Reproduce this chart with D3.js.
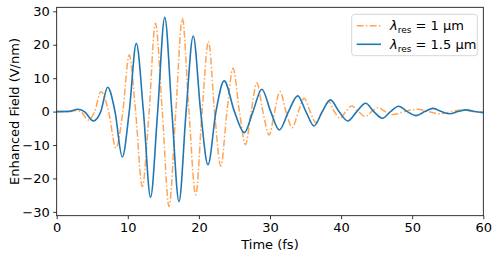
<!DOCTYPE html>
<html><head><meta charset="utf-8">
<script src="https://cdn.jsdelivr.net/npm/d3@7"></script>
<style>body{margin:0;background:#fff}svg{display:block}text{font-family:"DejaVu Sans",sans-serif;fill:#000}</style>
</head><body>
<svg id="c" width="498" height="259"></svg>
<script>
// Data (time in fs, field in V/nm)
const orangeT = [0,1.8,2.7,3.4,4.4,5.35,6.23,7.3,8.34,9.3,10.2,11.1,12.04,13.0,13.88,14.85,15.8,16.75,17.67,18.6,19.55,20.45,21.35,22.2,23.08,23.95,24.8,25.7,26.55,27.35,28.15,29.0,29.88,30.65,31.4,32.25,33.12,34.0,34.8,35.65,36.45,37.35,38.25,39.05,39.85,40.65,41.5,42.45,43.4,44.3,45.2,46.2,47.3,48.9,50.7,52.3,53.9,55.5,57.0,58.5,60];
const orangeV = [0,0,0.3,0,-2.5,0,6.0,0,-10.9,0,16.9,0,-22.4,0,26.4,0,-28.4,0,27.9,0,-24.9,0,21.0,0,-16.3,0,13.0,0,-9.9,0,8.6,0,-7.0,0,6.0,0,-4.8,0,4.0,0,-3.3,0,3.0,0,-2.0,0,1.7,0,-1.5,0,1.2,0,-0.9,0,0.7,0,-0.7,0,0.5,0,-0.2];
const blueT = [0,1.8,2.95,3.9,5.15,6.2,7.17,8.2,9.23,10.2,11.2,12.2,13.2,14.2,15.2,16.2,17.2,18.2,19.2,20.25,21.28,22.4,23.55,25.0,26.4,27.6,28.85,30.1,31.3,32.6,33.9,35.05,36.2,37.35,38.5,39.7,40.95,42.2,43.45,44.6,45.8,46.95,48.1,49.3,50.55,51.75,52.95,54.1,55.3,56.45,57.6,58.8,60];
const blueV = [0,0.05,0.7,0,-2.8,0,7.3,0,-13.6,0,20.4,0,-25.6,0,28.2,0,-26.9,0,22.6,0,-15.9,0,9.2,0,-6.3,0,6.7,0,-5.5,0,4.7,0,-4.3,0,3.5,0,-2.8,0,2.5,0,-2.0,0,1.6,0,-1.2,0,0.95,0,-0.65,0,0.5,0,-0.3];
const xTicks = [0,10,20,30,40,50,60];
const yTicks = [-30,-20,-10,0,10,20,30];
const xLabel = "Time (fs)";
const yLabel = "Enhanced Field (V/nm)";
const legendVals = ["1 µm","1.5 µm"];

const svg = d3.select("#c");
const L = 56.7, R = 483.3, T = 7.3, B = 215.7;
const x = d3.scaleLinear().domain([0,60]).range([L,R]);
const y = d3.scaleLinear().domain([-31.15,31.2]).range([B,T]);

const clip = svg.append("clipPath").attr("id","cp").append("rect")
  .attr("x",L).attr("y",T).attr("width",R-L).attr("height",B-T);

const line = d3.line().x(d=>x(d[0])).y(d=>y(d[1])).curve(d3.curveMonotoneX);
const oData = orangeT.map((t,i)=>[t,orangeV[i]]);
const bData = blueT.map((t,i)=>[t,blueV[i]]);

const g = svg.append("g").attr("clip-path","url(#cp)");
g.append("path").datum(oData).attr("d",line).attr("fill","none")
  .attr("stroke","#ff7f0e").attr("stroke-opacity",0.7).attr("stroke-width",1.5)
  .attr("stroke-dasharray","7,2.2,1.5,2.2");
g.append("path").datum(bData).attr("d",line).attr("fill","none")
  .attr("stroke","#1f77b4").attr("stroke-width",1.6);

// axes
const fmt = d => d<0 ? "\u2212"+Math.abs(d) : String(d);
const xa = svg.append("g").attr("transform",`translate(0,${B})`)
  .call(d3.axisBottom(x).tickValues(xTicks).tickFormat(fmt).tickSize(3.5).tickPadding(3.5));
const ya = svg.append("g").attr("transform",`translate(${L},0)`)
  .call(d3.axisLeft(y).tickValues(yTicks).tickFormat(fmt).tickSize(3.5).tickPadding(3.5));
[xa,ya].forEach(a=>{
  a.select(".domain").remove();
  a.selectAll("line").attr("stroke","#000").attr("stroke-width",0.8);
  a.selectAll("text").attr("font-size",13).attr("font-family","DejaVu Sans");
});
svg.append("rect").attr("x",L).attr("y",T).attr("width",R-L).attr("height",B-T)
  .attr("fill","none").attr("stroke","#000").attr("stroke-width",0.8);

svg.append("text").attr("x",(L+R)/2).attr("y",249).attr("text-anchor","middle")
  .attr("font-size",13).text(xLabel);
svg.append("text").attr("transform",`translate(19,${(T+B)/2}) rotate(-90)`)
  .attr("text-anchor","middle").attr("font-size",13).text(yLabel);

// legend
const lg = svg.append("g");
lg.append("rect").attr("x",351.7).attr("y",14.3).attr("width",125.6).attr("height",41.4)
  .attr("rx",3).attr("fill","#fff").attr("fill-opacity",0.8).attr("stroke","#ccc").attr("stroke-width",0.8);
const rows = [{c:"#ff7f0e",o:0.7,d:"7,2.2,1.5,2.2",y:25.7,w:1.5},{c:"#1f77b4",o:1,d:null,y:44.3,w:1.6}];
rows.forEach((r,i)=>{
  lg.append("line").attr("x1",356.7).attr("x2",381).attr("y1",r.y).attr("y2",r.y)
    .attr("stroke",r.c).attr("stroke-opacity",r.o).attr("stroke-width",r.w)
    .attr("stroke-dasharray",r.d);
  const t = lg.append("text").attr("x",390).attr("y",r.y+4.6).attr("font-size",13);
  t.append("tspan").attr("font-style","italic").text("λ");
  t.append("tspan").attr("font-size",9).attr("dy",3).text("res");
  t.append("tspan").attr("dy",-3).text(" = "+legendVals[i]);
});
</script>
</body></html>
